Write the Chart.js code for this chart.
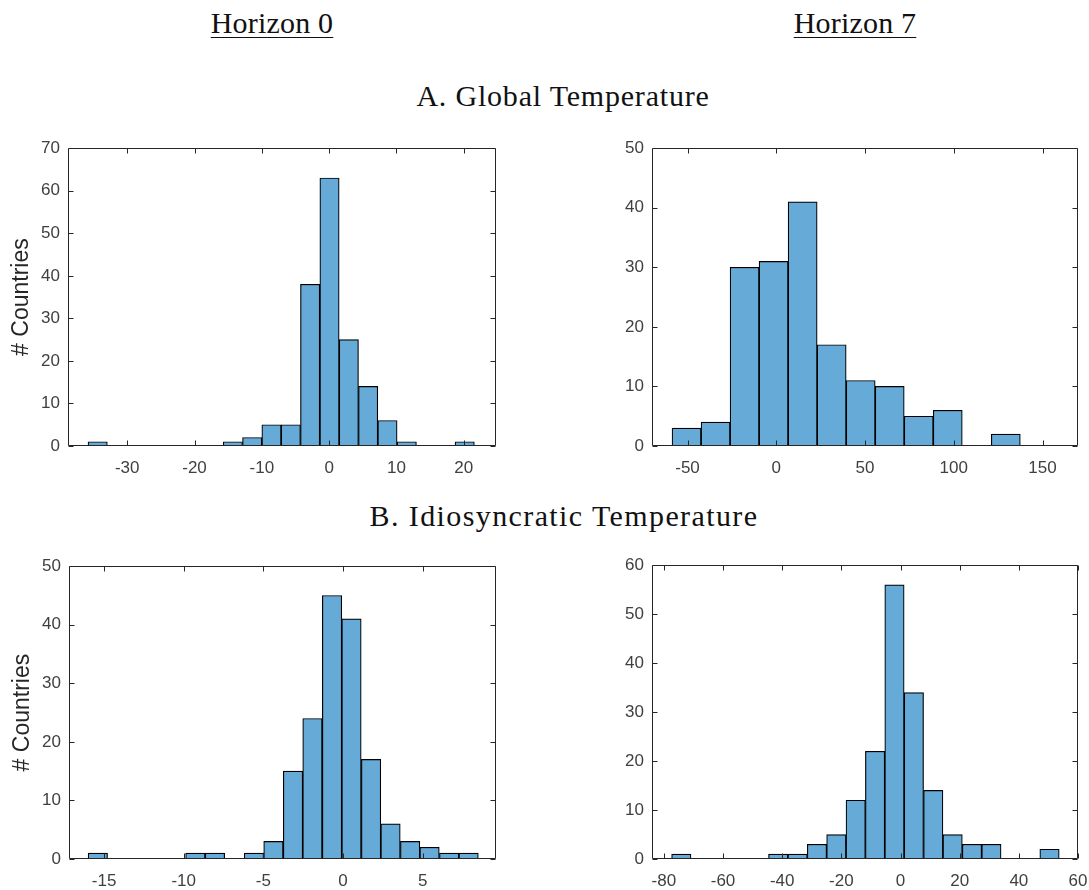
<!DOCTYPE html>
<html>
<head>
<meta charset="utf-8">
<script src="https://cdn.jsdelivr.net/npm/chart.js@4.4.0/dist/chart.umd.min.js"></script>
<style>
  body { margin: 0; background: #fff; width: 1089px; height: 890px; position: relative; overflow: hidden; }
  .t { position: absolute; font-family: "Liberation Serif", serif; font-size: 30px; line-height: 30px;
       color: #111; white-space: nowrap; transform: translateX(-50%); }
  .u { text-decoration: underline; text-decoration-thickness: 1px; text-underline-offset: 4px; letter-spacing: 0.2px; }
  canvas { position: absolute; }
</style>
</head>
<body>
<div class="t u" style="left:272px; top:8px">Horizon 0</div>
<div class="t u" style="left:855px; top:8px">Horizon 7</div>
<div class="t" style="left:563px; top:81px; letter-spacing:0.8px">A. Global Temperature</div>
<div class="t" style="left:564px; top:501px; letter-spacing:1.4px">B. Idiosyncratic Temperature</div>
<canvas id="c1"></canvas>
<canvas id="c2"></canvas>
<canvas id="c3"></canvas>
<canvas id="c4"></canvas>
<script>
// A. Global temperature, horizon 0 (bin centres and counts)
const globalH0Centers = [-34.39, -31.52, -28.65, -25.78, -22.91, -20.04, -17.17, -14.30, -11.43, -8.56,
                         -5.69, -2.82, 0.06, 2.93, 5.80, 8.67, 11.54, 14.41, 17.28, 20.15];
const globalH0Counts  = [1, 0, 0, 0, 0, 0, 0, 1, 2, 5, 5, 38, 63, 25, 14, 6, 1, 0, 0, 1];
const globalH0XTicks  = [-30, -20, -10, 0, 10, 20];

// A. Global temperature, horizon 7
const globalH7Centers = [-50.53, -34.18, -17.83, -1.48, 14.87, 31.22, 47.57, 63.92, 80.27, 96.62, 112.97, 129.32];
const globalH7Counts  = [3, 4, 30, 31, 41, 17, 11, 10, 5, 6, 0, 2];
const globalH7XTicks  = [-50, 0, 50, 100, 150];

// B. Idiosyncratic temperature, horizon 0
const idioH0Centers = [-15.39, -14.17, -12.94, -11.72, -10.49, -9.27, -8.04, -6.82, -5.59, -4.37,
                       -3.14, -1.92, -0.69, 0.53, 1.76, 2.98, 4.21, 5.43, 6.66, 7.88];
const idioH0Counts  = [1, 0, 0, 0, 0, 1, 1, 0, 1, 3, 15, 24, 45, 41, 17, 6, 3, 2, 1, 1];
const idioH0XTicks  = [-15, -10, -5, 0, 5];

// B. Idiosyncratic temperature, horizon 7
const idioH7Centers = [-74.09, -67.54, -60.99, -54.44, -47.89, -41.34, -34.79, -28.24, -21.69, -15.14,
                       -8.59, -2.04, 4.52, 11.07, 17.62, 24.17, 30.72, 37.27, 43.82, 50.37];
const idioH7Counts  = [1, 0, 0, 0, 0, 1, 1, 3, 5, 12, 22, 56, 34, 14, 5, 3, 3, 0, 0, 2];
const idioH7XTicks  = [-80, -60, -40, -20, 0, 20, 40, 60];

const yLabel = '# Countries';

// box round the plot and MATLAB-like inward ticks on all sides
const boxPlugin = {
    id: 'box',
    afterDatasetsDraw(chart) {
        const { ctx, chartArea: a, scales: { x, y } } = chart;
        const L = Math.round(a.left) + 0.5, R = Math.round(a.right) - 0.5;
        const T = Math.round(a.top) + 0.5, B = Math.round(a.bottom) - 0.5;
        const len = 5;
        ctx.save();
        ctx.strokeStyle = '#262626';
        ctx.lineWidth = 1;
        ctx.beginPath();
        ctx.rect(L, T, R - L, B - T);
        x.ticks.forEach(t => {
            const px = Math.round(x.getPixelForValue(t.value)) + 0.5;
            ctx.moveTo(px, B); ctx.lineTo(px, B - len);
            ctx.moveTo(px, T); ctx.lineTo(px, T + len);
        });
        y.ticks.forEach(t => {
            const py = Math.round(y.getPixelForValue(t.value)) + 0.5;
            ctx.moveTo(L, py); ctx.lineTo(L + len, py);
            ctx.moveTo(R, py); ctx.lineTo(R - len, py);
        });
        ctx.stroke();
        ctx.restore();
    }
};

function makeHist(id, centers, counts, p) {
    const padTop = 16, yW = 68, padRight = 24, xH = 44;
    const canvas = document.getElementById(id);
    canvas.width = (p.right - p.left) + yW + padRight;
    canvas.height = (p.bottom - p.top) + padTop + xH;
    canvas.style.left = (p.left - yW) + 'px';
    canvas.style.top = (p.top - padTop) + 'px';

    const tickFont = { family: '"Liberation Sans", Arial, sans-serif', size: 17 };

    return new Chart(canvas.getContext('2d'), {
        type: 'bar',
        data: {
            datasets: [{
                data: centers.map((c, i) => ({ x: c, y: counts[i] })),
                backgroundColor: '#66aad7',
                borderColor: '#000',
                borderWidth: 1.2,
                borderSkipped: false,
                barPercentage: 1,
                categoryPercentage: 1
            }]
        },
        options: {
            responsive: false,
            animation: false,
            layout: { padding: { top: padTop, right: padRight, left: 0, bottom: 0 } },
            plugins: { legend: { display: false }, tooltip: { enabled: false } },
            scales: {
                x: {
                    type: 'linear',
                    min: p.xMin,
                    max: p.xMax,
                    offset: false,
                    grid: { display: false, drawTicks: false },
                    border: { display: false },
                    ticks: { color: '#404040', font: tickFont, padding: 12, maxRotation: 0 },
                    afterBuildTicks: s => { s.ticks = p.xTicks.map(v => ({ value: v })); },
                    afterFit: s => { s.height = xH; }
                },
                y: {
                    min: 0,
                    max: p.yMax,
                    grid: { display: false, drawTicks: false },
                    border: { display: false },
                    ticks: { stepSize: 10, color: '#404040', font: tickFont, padding: 8 },
                    title: {
                        display: p.showTitle,
                        text: yLabel,
                        color: '#262626',
                        font: { family: '"Liberation Sans", Arial, sans-serif', size: 23 },
                        padding: { top: 8, bottom: 0 }
                    },
                    afterFit: s => { s.width = yW; }
                }
            }
        },
        plugins: [boxPlugin]
    });
}

makeHist('c1', globalH0Centers, globalH0Counts,
    { left: 68, right: 496, top: 146, bottom: 446, xMin: -38.8, xMax: 24.8, yMax: 70, xTicks: globalH0XTicks, showTitle: true });
makeHist('c2', globalH7Centers, globalH7Counts,
    { left: 652, right: 1078, top: 146, bottom: 446, xMin: -70, xMax: 170, yMax: 50, xTicks: globalH7XTicks, showTitle: false });
makeHist('c3', idioH0Centers, idioH0Counts,
    { left: 69, right: 496, top: 564, bottom: 859, xMin: -17.2, xMax: 9.6, yMax: 50, xTicks: idioH0XTicks, showTitle: true });
makeHist('c4', idioH7Centers, idioH7Counts,
    { left: 652, right: 1078, top: 563, bottom: 859, xMin: -84, xMax: 60, yMax: 60, xTicks: idioH7XTicks, showTitle: false });
</script>
</body>
</html>
